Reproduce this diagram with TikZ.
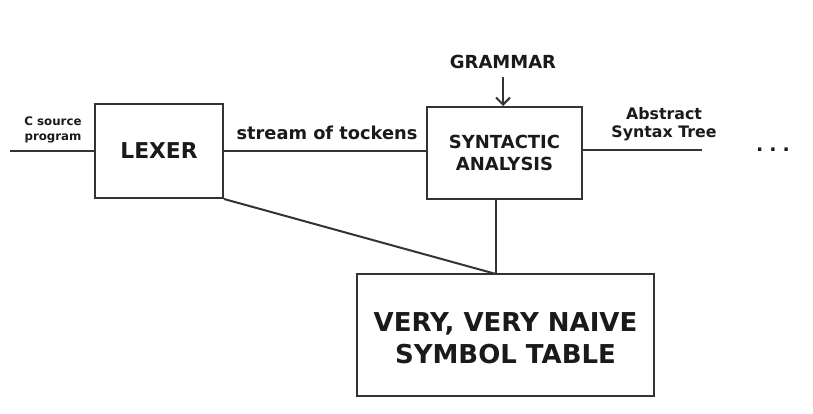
\documentclass[tikz,border=0pt]{standalone}
\usepackage{fontspec}
\setmainfont{DejaVu Sans}
\usetikzlibrary{arrows.meta}
\definecolor{ln}{HTML}{333333}
\definecolor{tx}{HTML}{1A1A1A}
\tikzset{
  box/.style={draw=ln, line width=2pt, rectangle, inner sep=0pt, text=tx, align=center, font=\bfseries},
  lbl/.style={text=tx, align=center, inner sep=0pt, font=\bfseries},
  conn/.style={draw=ln, line width=2pt}
}
\begin{document}
\begin{tikzpicture}[x=1pt,y=-1pt]
\useasboundingbox (0,0) rectangle (813,413);
\node[box, minimum width=128pt, minimum height=94pt, font=\bfseries\fontsize{21.8}{26}\selectfont] (lexer) at (159,151) {LEXER};
\node[box, minimum width=155pt, minimum height=92pt, font=\bfseries\fontsize{18}{22}\selectfont] (syn) at (504.5,153) {SYNTACTIC\\ANALYSIS};
\node[box, minimum width=297pt, minimum height=122pt] (sym) at (505.5,335) {};
\node[lbl, font=\bfseries\fontsize{26}{31.5}\selectfont] (symtxt) at (505.5,338) {VERY, VERY NAIVE\\SYMBOL TABLE};
\node[lbl, font=\bfseries\fontsize{11.8}{15}\selectfont] (src) at (53,130) {C source\\program};
\node[lbl, font=\bfseries\fontsize{17.8}{20}\selectfont] (stream) at (327,133) {stream of tockens};
\node[lbl, font=\bfseries\fontsize{18}{20}\selectfont] (gram) at (503,62) {GRAMMAR};
\node[lbl, font=\bfseries\fontsize{15.8}{18}\selectfont] (ast) at (664,124) {Abstract\\Syntax Tree};
\node[lbl, font=\bfseries\fontsize{19}{20}\selectfont] (dots) at (773,150) {.\hspace{6pt}.\hspace{6pt}.};
\coordinate (in) at (10,151);
\coordinate (out) at (702,150);
\coordinate (junc) at (496,274);
\draw[conn] (in) -- (lexer.west);
\draw[conn] (lexer.east) -- (lexer.east -| syn.west);
\draw[conn] (syn.east |- out) -- (out);
\draw[conn, -{Straight Barb[length=7pt,width=14pt]}] (gram.south |- 0,77) -- (gram.south |- syn.north);
\draw[conn] (lexer.south east) -- (junc);
\draw[conn] (junc |- syn.south) -- (junc);
\end{tikzpicture}
\end{document}
